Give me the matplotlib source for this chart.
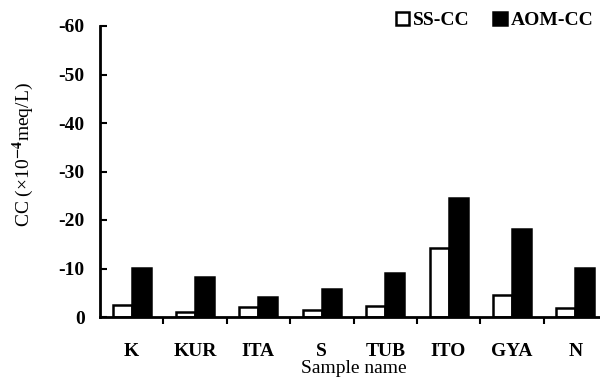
import numpy as np
import matplotlib
matplotlib.use('Agg')
import matplotlib.pyplot as plt
from matplotlib.ticker import FixedLocator

samples = ['K', 'KUR', 'ITA', 'S', 'TUB', 'ITO', 'GYA', 'N']
ss_cc = [-2.4, -1.0, -2.1, -1.5, -2.2, -14.3, -4.5, -1.9]
aom_cc = [-10.2, -8.3, -4.2, -5.8, -9.0, -24.6, -18.2, -10.1]
yticks = [0, -10, -20, -30, -40, -50, -60]

plt.rcParams['font.family'] = ['Liberation Serif', 'DejaVu Serif']
plt.rcParams['font.weight'] = 'bold'
plt.rcParams['mathtext.fontset'] = 'stix'
plt.rcParams['axes.unicode_minus'] = False

fig = plt.figure(figsize=(6, 3.85), dpi=100)
ax = fig.add_axes([100/600, 68/385, 507/600, 291/385])

x = np.arange(len(samples))
w = 0.3
ax.bar(x - w/2, ss_cc, w, color='white', edgecolor='black', linewidth=1.8, label='SS-CC')
ax.bar(x + w/2, aom_cc, w, color='black', edgecolor='black', linewidth=1.8, label='AOM-CC')

ax.set_xlim(-0.5, len(samples) - 0.5)
ax.set_ylim(0, -60)
ax.set_yticks(yticks)
ax.set_yticklabels([str(v) for v in yticks])

ax.set_xticks(x)
ax.set_xticklabels(samples)
ax.xaxis.set_minor_locator(FixedLocator(np.arange(len(samples)) + 0.5))
ax.tick_params(axis='x', which='major', length=0, pad=19, labelsize=14)
ax.tick_params(axis='x', which='minor', length=5, width=1.5, direction='out')
ax.tick_params(axis='y', length=5, width=1.5, direction='in', pad=11, labelsize=14)

for s in ['top', 'right']:
    ax.spines[s].set_visible(False)
for s in ['left', 'bottom']:
    ax.spines[s].set_linewidth(2)

ax.set_xlabel('Sample name', fontsize=14, labelpad=0)
ax.set_ylabel('CC (×10$^{-4}$meq/L)', fontsize=14)
ax.yaxis.set_label_coords(-0.127, 0.557)

leg = fig.legend(loc='upper right', bbox_to_anchor=(1.012, 1.005), ncol=2, frameon=False,
                 fontsize=14, handlelength=0.7, handleheight=0.7, handletextpad=0.2,
                 columnspacing=1.2, borderaxespad=0.3)

fig.savefig('out.png', dpi=100)
